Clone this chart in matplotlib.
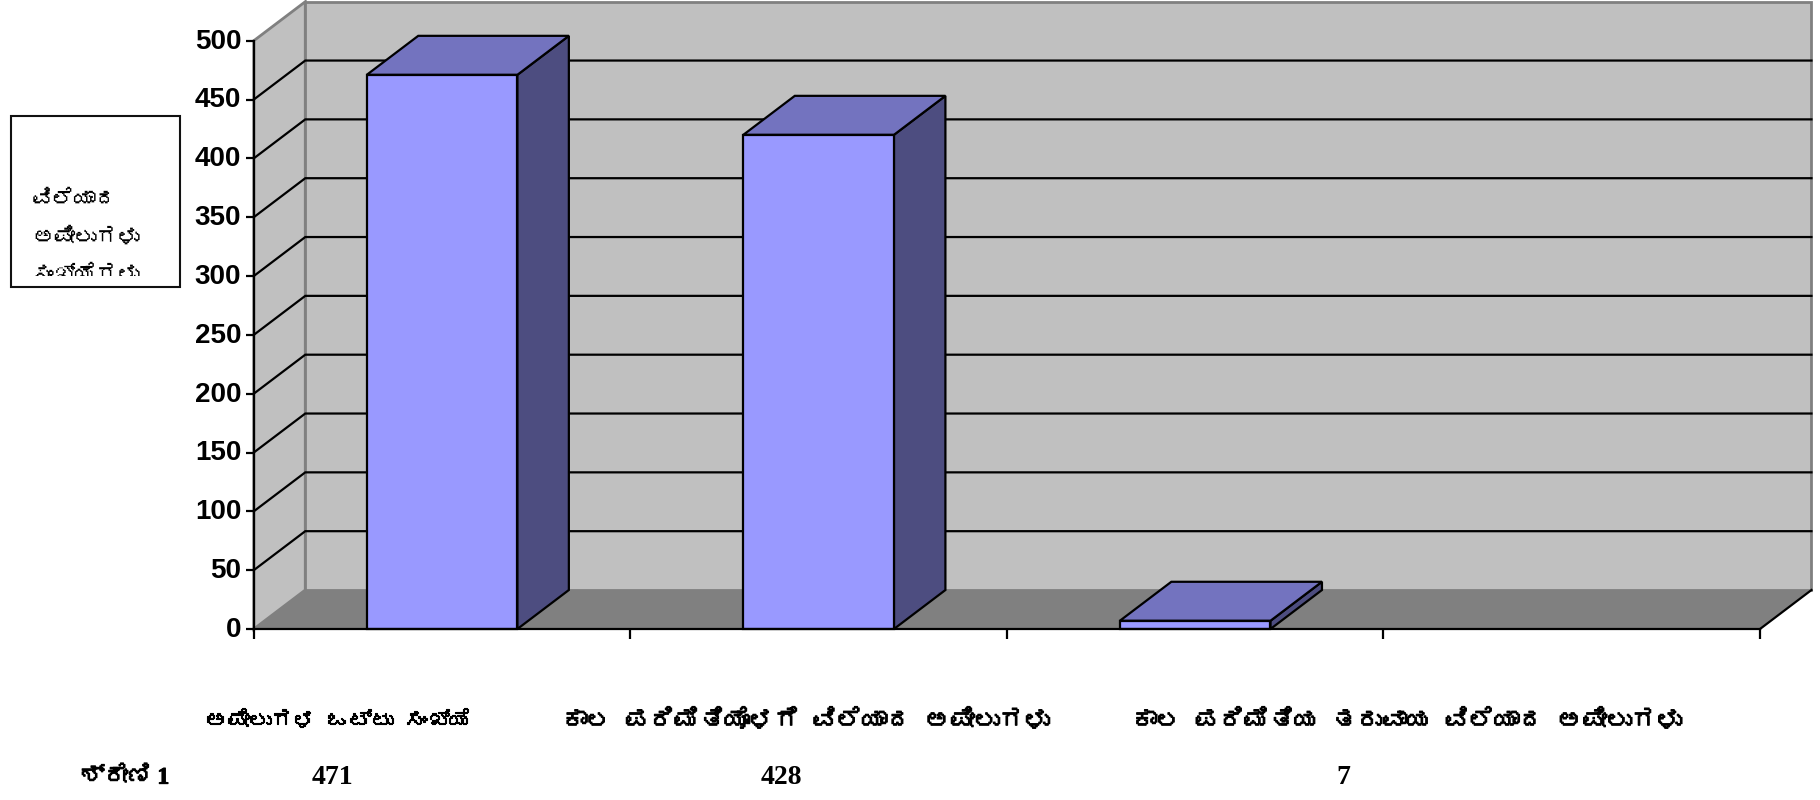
import matplotlib
matplotlib.use("Agg")
import matplotlib.pyplot as plt
import matplotlib.patheffects as pe
from matplotlib import font_manager as fm
from matplotlib.ft2font import FT2Font
from matplotlib.patches import Polygon, Rectangle
from matplotlib.transforms import ScaledTranslation

# bar heights as drawn in the picture, the table below the chart prints its own numbers
bar_values = [471, 420, 7]
categories = ["ಅಪೀಲುಗಳ ಒಟ್ಟು ಸಂಖ್ಯೆ",
              "ಕಾಲ ಪರಿಮಿತಿಯೊಳಗೆ ವಿಲೆಯಾದ ಅಪೀಲುಗಳು",
              "ಕಾಲ ಪರಿಮಿತಿಯ ತರುವಾಯ ವಿಲೆಯಾದ ಅಪೀಲುಗಳು"]
table_values = ["471", "428", "7"]
series_name = "ಶ್ರೇಣಿ 1"
legend_lines = ["ವಿಲೆಯಾದ", "ಅಪೀಲುಗಳು", "ಸಂಖ್ಯೆಗಳು"]
y_ticks = list(range(0, 501, 50))
n_slots = 4

W, H = 1820, 800
DX = 51.5 / 376.75   # depth offset in category units
DY = 39.0 / 1.177    # depth offset in value units
LW = 1.6


def find_kannada_font():
    for f in fm.fontManager.ttflist:
        try:
            if 0x0C85 in FT2Font(f.fname).get_charmap():
                return f.name
        except Exception:
            pass
    return None


kn_font = find_kannada_font()
kn_family = [kn_font, "DejaVu Sans"] if kn_font else ["DejaVu Sans"]
# the Kannada font has no bold cut, a thin outline stands in for it
fake_bold = [pe.withStroke(linewidth=0.8, foreground="black")]

fig = plt.figure(figsize=(W / 100, H / 100), dpi=100, facecolor="white")
ax = fig.add_axes([253.8 / W, 1 - 629 / H, (1760 - 253.8) / W, (629 - 40.7) / H])
ax.set_xlim(0, n_slots)
ax.set_ylim(0, 500)
ax.patch.set_visible(False)

# walls and floor
top = 500 + DY
ax.add_patch(Polygon([(0, 0), (DX, DY), (DX, top), (0, 500)], fc="#C0C0C0", ec="#808080", lw=2,
                     clip_on=False, zorder=1))
ax.add_patch(Rectangle((DX, DY), n_slots, 500, fc="#C0C0C0", ec="#808080", lw=2, clip_on=False, zorder=1))
ax.add_patch(Polygon([(0, 0), (n_slots, 0), (n_slots + DX, DY), (DX, DY)], fc="#808080", ec="none",
                     clip_on=False, zorder=1.5))
ax.plot([n_slots, n_slots + DX], [0, DY], color="black", lw=LW, clip_on=False, zorder=2)

# gridlines, on the side wall then along the back wall
for v in y_ticks[1:-1]:
    ax.plot([0, DX, n_slots + DX], [v, v + DY, v + DY], color="black", lw=LW, clip_on=False, zorder=2,
            solid_joinstyle="miter")

# bars
bar_w = 0.4
for i, v in enumerate(bar_values):
    x0 = i + 0.5 - bar_w / 2
    x1 = x0 + bar_w
    ax.add_patch(Polygon([(x1, 0), (x1 + DX, DY), (x1 + DX, v + DY), (x1, v)], fc="#4D4D80", ec="black",
                         lw=LW, clip_on=False, zorder=3))
    ax.add_patch(Polygon([(x0, v), (x1, v), (x1 + DX, v + DY), (x0 + DX, v + DY)], fc="#7373BF", ec="black",
                         lw=LW, clip_on=False, zorder=3))
    ax.add_patch(Rectangle((x0, 0), bar_w, v, fc="#9999FF", ec="black", lw=LW, clip_on=False, zorder=4))

for s in ["top", "right"]:
    ax.spines[s].set_visible(False)
for s in ["left", "bottom"]:
    ax.spines[s].set_linewidth(LW)
    ax.spines[s].set_zorder(5)
ax.set_yticks(y_ticks)
ax.set_xticks(range(n_slots + 1))
ax.set_xticklabels([])
ax.tick_params(axis="y", length=5.5, width=LW, pad=3.5)
ax.tick_params(axis="x", length=7, width=LW)
label_shift = ScaledTranslation(0, 1.5 / 72, fig.dpi_scale_trans)
for t in ax.get_yticklabels():
    t.set_family("Liberation Sans")
    t.set_fontweight("bold")
    t.set_fontsize(20)
    t.set_transform(t.get_transform() + label_shift)


def px(x, y):
    return x / W, 1 - y / H


# table under the axis
cat_x = [338, 806, 1407]
cat_size = [16, 18, 18]
val_x = [332, 781, 1343]
for name, cx, size in zip(categories, cat_x, cat_size):
    fig.text(*px(cx, 720), name, ha="center", va="center", family=kn_family, fontsize=size,
             path_effects=fake_bold)
for val, cx in zip(table_values, val_x):
    fig.text(*px(cx, 778), val, ha="center", va="center", family="Liberation Serif", fontsize=20,
             fontweight="bold")
fig.text(*px(125, 778), series_name, ha="center", va="center", family=["Liberation Serif"] + kn_family,
         fontsize=17, fontweight="bold", path_effects=fake_bold)

# box on the left, its last line is cut off above the frame
box = Rectangle((11 / W, 1 - 287 / H), 169 / W, 171 / H, transform=fig.transFigure, fc="white", ec="#111111", lw=1.5)
fig.add_artist(box)
text_clip = Rectangle((11 / W, 1 - 276 / H), 169 / W, 160 / H, transform=fig.transFigure)
for line, y in zip(legend_lines, [200, 237, 274]):
    t = fig.text(*px(32, y), line, ha="left", va="center", family=kn_family, fontsize=15.5)
    t.set_clip_path(text_clip)
    t.set_clip_on(True)

fig.savefig("out.png", dpi=100)
